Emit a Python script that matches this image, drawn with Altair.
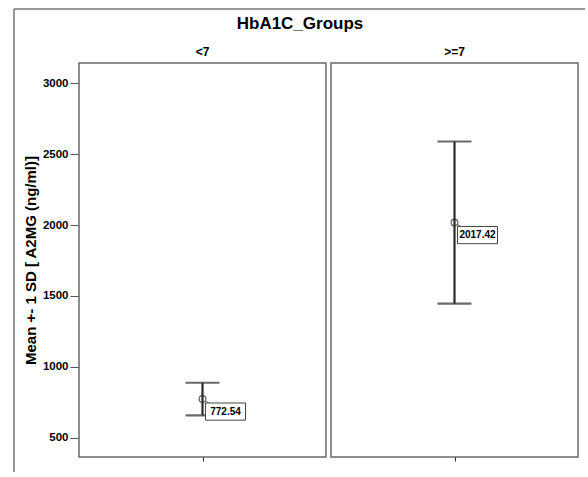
import altair as alt
import pandas as pd

groups = ["<7", ">=7"]
means = [772.54, 2017.42]
sds = [115.0, 572.0]
y_ticks = [500, 1000, 1500, 2000, 2500, 3000]

df = pd.DataFrame({
    "group": groups,
    "mean": means,
    "lower": [m - s for m, s in zip(means, sds)],
    "upper": [m + s for m, s in zip(means, sds)],
    "label": [f"{m:.2f}" for m in means],
})

FONT = "Liberation Sans"
INK = "#2b2b2b"

x_enc = alt.X(
    "group:N",
    scale=alt.Scale(type="point"),
    axis=alt.Axis(labels=False, title=None, domain=False, ticks=True,
                  tickSize=4, tickColor=INK, tickWidth=1),
)
y_scale = alt.Scale(domain=[364, 3143], nice=False, zero=False)
y_enc = alt.Y(
    "lower:Q",
    scale=y_scale,
    axis=alt.Axis(values=y_ticks, format="d", title="Mean +- 1 SD [ A2MG (ng/ml)]",
                  grid=False, domain=False, tickSize=9, tickColor="#555",
                  labelFont=FONT, labelFontSize=11.5, labelFontWeight="bold",
                  labelColor="black", labelPadding=2,
                  titleFont=FONT, titleFontSize=15, titleFontWeight="bold",
                  titleColor="black", titlePadding=4),
)

bar = alt.Chart().mark_rule(color=INK, strokeWidth=2.2).encode(
    x=x_enc, y=y_enc, y2="upper:Q")
cap_lo = alt.Chart().mark_tick(color=INK, size=34, thickness=2.2).encode(
    x=x_enc, y=alt.Y("lower:Q", scale=y_scale))
cap_hi = alt.Chart().mark_tick(color=INK, size=34, thickness=2.2).encode(
    x=x_enc, y=alt.Y("upper:Q", scale=y_scale))
dot = alt.Chart().mark_point(shape="circle", filled=False, size=45,
                             strokeWidth=1.3, color=INK).encode(
    x=x_enc, y=alt.Y("mean:Q", scale=y_scale))
leader = alt.Chart().mark_rule(color="#555", strokeWidth=1,
                               xOffset=3, x2Offset=8, yOffset=2, y2Offset=5).encode(
    x=x_enc, x2=alt.X2("group:N"), y=alt.Y("mean:Q", scale=y_scale), y2=alt.Y2("mean:Q"))
box = alt.Chart().mark_point(shape="M-1,-0.43H1V0.43H-1Z", size=1600, filled=True,
                             fill="white", stroke="#444", strokeWidth=1,
                             opacity=1, xOffset=23, yOffset=12.5).encode(
    x=x_enc, y=alt.Y("mean:Q", scale=y_scale))
txt = alt.Chart().mark_text(font=FONT, fontSize=10, fontWeight="bold",
                            color="black", dx=23, dy=12.5,
                            align="center", baseline="middle").encode(
    x=x_enc, y=alt.Y("mean:Q", scale=y_scale), text="label:N")

frame_v = alt.Chart().mark_rule(color="#777", strokeWidth=1.5).encode(
    x=alt.value(-65), y=alt.value(-54), y2=alt.value(409)
).transform_filter(alt.datum.group == "<7")
frame_h = alt.Chart().mark_rule(color="#777", strokeWidth=1.5).encode(
    x=alt.value(-65), x2=alt.value(506), y=alt.value(-54)
).transform_filter(alt.datum.group == "<7")

layered = alt.layer(frame_v, frame_h, bar, cap_lo, cap_hi, leader, dot, box, txt).properties(
    width=247, height=394)

chart = layered.facet(
    data=df,
    column=alt.Column(
        "group:N", sort=groups, title="HbA1C_Groups",
        header=alt.Header(labelFont=FONT, labelFontSize=12, labelFontWeight="bold",
                          labelColor="black", labelPadding=4,
                          titleFont=FONT, titleFontSize=17, titleFontWeight="bold",
                          titleColor="black", titlePadding=3),
    ),
    spacing=5,
    bounds="flush",
).resolve_scale(x="independent").configure_view(
    stroke="#6a6a6a", strokeWidth=1.5
).properties(
    padding={"left": 12, "top": 7, "right": 0, "bottom": 0},
    background="white",
)

chart.save("out.html", embed_options={"renderer": "svg", "actions": False})
